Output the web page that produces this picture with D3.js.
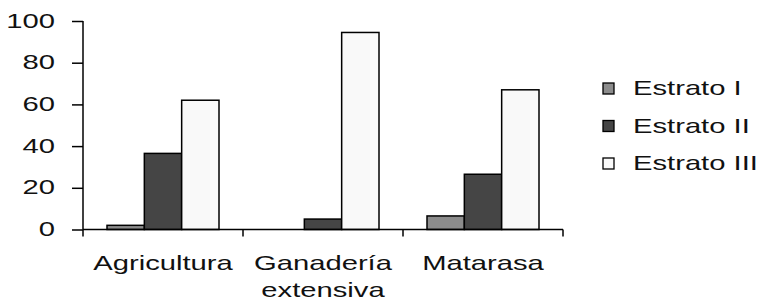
<!DOCTYPE html>
<html>
<head>
<meta charset="utf-8">
<script src="https://cdn.jsdelivr.net/npm/d3@7"></script>
<style>
body { margin: 0; background: #fff; }
text { font-family: "Liberation Sans", Arial, sans-serif; fill: #111; }
</style>
</head>
<body>
<svg width="757" height="302"></svg>
<script>
var categories = ["Agricultura", "Ganadería extensiva", "Matarasa"];
var series = ["Estrato I", "Estrato II", "Estrato III"];
var estratoI = [2, 0, 6.5];
var estratoII = [36.5, 5, 26.5];
var estratoIII = [62, 94.5, 67];
var yTicks = [0, 20, 40, 60, 80, 100];
var colors = ["#8c8c8c", "#454545", "#f9f9f9"];

var values = [estratoI, estratoII, estratoIII];
var sx = 1.46; // text in the reference is stretched wide

var svg = d3.select("svg");
var m = { left: 83, top: 21, bottom: 229.5 };

var x = d3.scaleBand().domain(categories).range([83, 563]);
var x1 = d3.scaleBand().domain(series).range([24, 136]);
var y = d3.scaleLinear().domain([0, 100]).range([m.bottom, m.top]);

// bars
var bars = svg.append("g");
categories.forEach(function(c, i){
	series.forEach(function(s, j){
		var v = values[j][i];
		if (v <= 0) return;
		bars.append("rect")
			.attr("x", x(c) + x1(s))
			.attr("y", y(v))
			.attr("width", x1.bandwidth())
			.attr("height", y(0) - y(v))
			.attr("fill", colors[j])
			.attr("stroke", "#000")
			.attr("stroke-width", 1.5);
	});
});

// y axis
var yAxis = svg.append("g")
	.attr("transform", "translate(" + m.left + ",0)")
	.call(d3.axisLeft(y).tickValues(yTicks).tickSize(11));
yAxis.select(".domain").attr("stroke", "#000").attr("stroke-width", 1.5)
	.attr("d", "M0," + y(100) + "V" + y(0));
yAxis.selectAll(".tick line").attr("stroke", "#000").attr("stroke-width", 1.5);
yAxis.selectAll(".tick text")
	.attr("x", -28 / sx)
	.attr("dy", "0.3em")
	.attr("transform", "scale(" + sx + ",1)")
	.style("font-size", "20px")
	.style("font-family", "Liberation Sans, Arial, sans-serif")
	.attr("fill", "#111");

// x axis
var xAxis = svg.append("g");
xAxis.append("line")
	.attr("x1", x.range()[0]).attr("x2", x.range()[1])
	.attr("y1", y(0)).attr("y2", y(0))
	.attr("stroke", "#000").attr("stroke-width", 1.5);
var bounds = categories.map(function(c){ return x(c); }).concat([x.range()[1]]);
xAxis.selectAll(".xt").data(bounds).enter().append("line")
	.attr("x1", function(d){ return d; }).attr("x2", function(d){ return d; })
	.attr("y1", y(0)).attr("y2", y(0) + 7)
	.attr("stroke", "#000").attr("stroke-width", 1.5);

categories.forEach(function(c){
	var cx = x(c) + x.bandwidth() / 2;
	var words = c.split(" ");
	words.forEach(function(w, k){
		xAxis.append("text")
			.attr("transform", "translate(" + cx + "," + (269.5 + k * 27) + ") scale(" + sx + ",1)")
			.attr("text-anchor", "middle")
			.style("font-size", "20px")
			.text(w);
	});
});

// legend
var legend = svg.append("g");
series.forEach(function(s, j){
	var by = 95 + j * 37.5;
	legend.append("rect")
		.attr("x", 603).attr("y", by - 12)
		.attr("width", 11).attr("height", 11)
		.attr("fill", colors[j])
		.attr("stroke", "#000").attr("stroke-width", 1.3);
	legend.append("text")
		.attr("transform", "translate(633," + by + ") scale(" + sx + ",1)")
		.style("font-size", "20px")
		.text(s);
});
</script>
</body>
</html>
